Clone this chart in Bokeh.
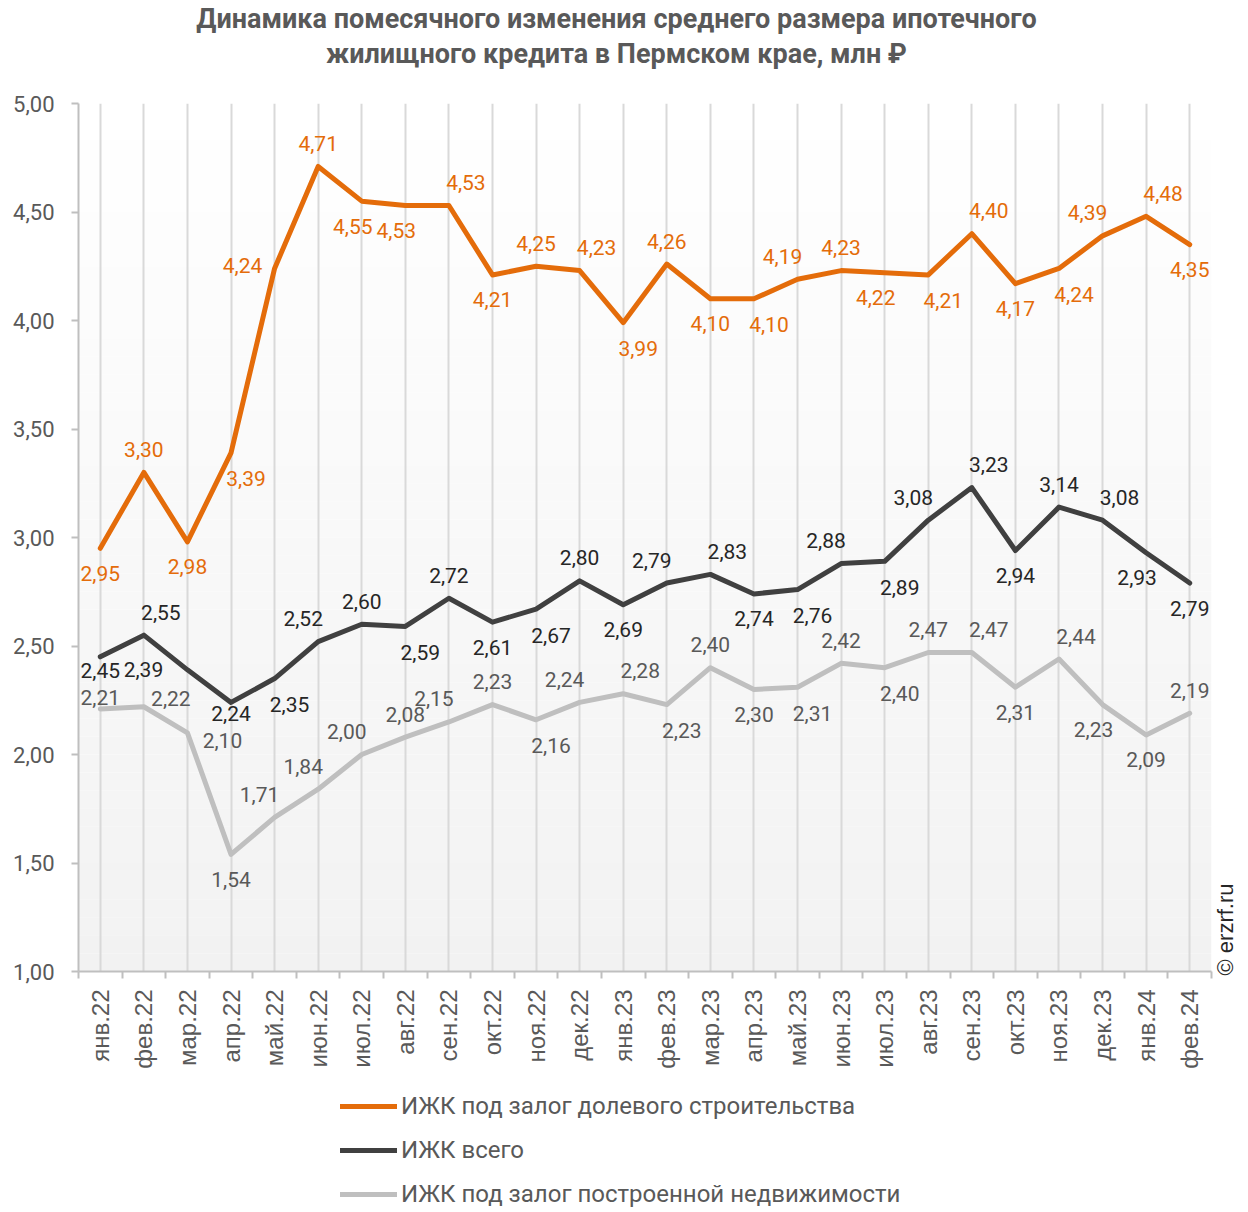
from bokeh.plotting import figure
from bokeh.layouts import column
from bokeh.models import (Range1d, FixedTicker, CustomJSTickFormatter, ColumnDataSource,
                          LabelSet, Legend, LegendItem, Label, BoxAnnotation)
from bokeh.core.properties import value
from bokeh.embed import file_html
from bokeh.resources import INLINE
import math

# ---------------- data ----------------
months = ["янв.22", "фев.22", "мар.22", "апр.22", "май.22", "июн.22", "июл.22", "авг.22",
          "сен.22", "окт.22", "ноя.22", "дек.22", "янв.23", "фев.23", "мар.23", "апр.23",
          "май.23", "июн.23", "июл.23", "авг.23", "сен.23", "окт.23", "ноя.23", "дек.23",
          "янв.24", "фев.24"]

dolevoe = [2.95, 3.30, 2.98, 3.39, 4.24, 4.71, 4.55, 4.53, 4.53, 4.21, 4.25, 4.23, 3.99,
           4.26, 4.10, 4.10, 4.19, 4.23, 4.22, 4.21, 4.40, 4.17, 4.24, 4.39, 4.48, 4.35]
vsego = [2.45, 2.55, 2.39, 2.24, 2.35, 2.52, 2.60, 2.59, 2.72, 2.61, 2.67, 2.80, 2.69,
         2.79, 2.83, 2.74, 2.76, 2.88, 2.89, 3.08, 3.23, 2.94, 3.14, 3.08, 2.93, 2.79]
postroennoe = [2.21, 2.22, 2.10, 1.54, 1.71, 1.84, 2.00, 2.08, 2.15, 2.23, 2.16, 2.24, 2.28,
               2.23, 2.40, 2.30, 2.31, 2.42, 2.40, 2.47, 2.47, 2.31, 2.44, 2.23, 2.09, 2.19]

series_names = ["ИЖК под залог долевого строительства", "ИЖК всего",
                "ИЖК под залог построенной недвижимости"]

y_ticks = [1.0, 1.5, 2.0, 2.5, 3.0, 3.5, 4.0, 4.5, 5.0]

title_line1 = "Динамика помесячного изменения среднего размера ипотечного"
title_line2 = "жилищного кредита в Пермском крае, млн ₽"
copyright_text = "© erzrf.ru"

# ---------------- label placement (style) ----------------
OFF = {"a": (0, 23), "b": (0, -25), "ar": (17, 23), "al": (-15, 23),
       "br": (15, -26), "bl": (-9, -25)}
dolevoe_pos = ["b", "a", "b", "br", (-32, 3), "a", "bl", "bl", "ar", "b", "a", "ar", "br",
               "a", "b", "br", "al", "a", "bl", "br", "ar", "b", "br", "al", "ar", "b"]
vsego_pos = [(0, -14), "ar", (-44, 0), (0, -11), "br", "al", "a", "br", "a", "b", "br", "a", "b",
             "al", "ar", "b", "br", "al", "br", "al", "ar", "b", "a", "ar", "bl", "b"]
postr_pos = [(0, 11), (27, 8), (35, -8), "b", "al", "al", "al", "a", "al", "a", "br", "al", "ar",
             "br", "a", "b", "br", "a", "br", "a", "ar", "b", "ar", "bl", "b", "a"]

ORANGE = "#E46C0A"
DARK = "#404040"
LIGHT = "#BFBFBF"
TEXT = "#595959"
W = 1244

xs = list(range(len(months)))
series = [(series_names[2], postroennoe, LIGHT),
          (series_names[1], vsego, DARK),
          (series_names[0], dolevoe, ORANGE)]

# ---------------- title strip ----------------
pt = figure(width=W, height=90, output_backend="svg", toolbar_location=None,
            x_range=Range1d(0, 1), y_range=Range1d(0, 1), x_axis_type=None, y_axis_type=None,
            min_border=0)
pt.outline_line_color = None
pt.grid.visible = False
for txt, ypos in [(title_line1, 72), (title_line2, 37)]:
    pt.add_layout(Label(x=538, y=ypos, x_units="screen", y_units="screen", text=txt,
                        text_align="center", text_baseline="middle", text_font="Roboto",
                        text_font_size="27px", text_font_style="bold", text_color=TEXT))

# ---------------- main chart ----------------
p = figure(frame_width=1133, frame_height=868, output_backend="svg", toolbar_location=None,
           x_range=Range1d(-0.5, len(months) - 0.5), y_range=Range1d(1.0, 5.0),
           min_border_left=78, min_border_right=33, min_border_top=13, min_border_bottom=100)
p.outline_line_color = None
p.background_fill_color = "white"
p.border_fill_color = "white"

# gradient background
nb = 48
for i in range(nb):
    b = 1.0 + 4.0 * i / nb
    t = 1.0 + 4.0 * (i + 1) / nb
    f = (i + 0.5) / nb
    g = int(round(242 + (255 - 242) * f))
    p.add_layout(BoxAnnotation(bottom=b, top=t, fill_color=(g, g, g), fill_alpha=1.0,
                               line_color=None, level="image"))

xax = p.xaxis[0]
xax.ticker = FixedTicker(ticks=xs, minor_ticks=[i - 0.5 for i in range(len(months) + 1)])
xax.major_label_overrides = {i: m for i, m in enumerate(months)}
xax.major_label_orientation = math.pi / 2
xax.major_tick_out = 0
xax.major_tick_in = 0
xax.minor_tick_out = 7
xax.minor_tick_in = 0
xax.minor_tick_line_color = LIGHT
xax.minor_tick_line_width = 2
xax.axis_line_color = LIGHT
xax.axis_line_width = 2
xax.major_label_text_font = "Liberation Sans"
xax.major_label_text_font_size = "24px"
xax.major_label_text_color = TEXT
xax.major_label_standoff = 11

yax = p.yaxis[0]
yax.ticker = FixedTicker(ticks=y_ticks, minor_ticks=[])
yax.formatter = CustomJSTickFormatter(code="return tick.toFixed(2).replace('.', ',');")
yax.major_tick_out = 7
yax.major_tick_in = 0
yax.major_tick_line_color = LIGHT
yax.major_tick_line_width = 2
yax.minor_tick_out = 0
yax.axis_line_color = LIGHT
yax.axis_line_width = 2
yax.major_label_text_font = "Roboto"
yax.major_label_text_font_size = "22px"
yax.major_label_text_color = TEXT
yax.major_label_standoff = 17

p.xgrid.grid_line_color = "#D9D9D9"
p.xgrid.grid_line_width = 2
p.ygrid.visible = False

for name, vals, col in series:
    p.line(xs, vals, line_color=col, line_width=5, line_join="round", line_cap="round")

def add_labels(vals, pos, color):
    xo, yo = [], []
    for ps in pos:
        dx, dy = OFF[ps] if isinstance(ps, str) else ps
        xo.append(dx)
        yo.append(dy)
    src = ColumnDataSource(dict(x=xs, y=vals, t=[f"{v:.2f}".replace(".", ",") for v in vals],
                                xo=xo, yo=yo))
    p.add_layout(LabelSet(x="x", y="y", text="t", x_offset="xo", y_offset="yo", source=src,
                          text_align="center", text_baseline="middle",
                          text_font=value("Roboto"), text_font_size=value("21px"),
                          text_color=color))

add_labels(postroennoe, postr_pos, TEXT)
add_labels(vsego, vsego_pos, "#262626")
add_labels(dolevoe, dolevoe_pos, ORANGE)

p.add_layout(Label(x=14, y=-4, x_units="screen", y_units="screen", text=copyright_text,
                   angle=math.pi / 2, text_align="left", text_baseline="middle",
                   text_font="Liberation Sans", text_font_size="22px", text_color="#262626"),
             "right")

# ---------------- legend strip ----------------
pl = figure(width=W, height=138, output_backend="svg", toolbar_location=None,
            x_range=Range1d(0, 1), y_range=Range1d(100, 101), x_axis_type=None,
            y_axis_type=None, min_border=0)
pl.outline_line_color = None
pl.grid.visible = False
leg_r = {}
for name, vals, col in series:
    leg_r[name] = pl.line(xs, vals, line_color=col, line_width=5, line_cap="round")
legend = Legend(items=[LegendItem(label=n, renderers=[leg_r[n]]) for n in series_names],
                location=(262, 1), orientation="vertical",
                label_text_font="Roboto", label_text_font_size="24px", label_text_color=TEXT,
                glyph_width=57, glyph_height=28, label_height=28,
                label_standoff=4, spacing=16,
                padding=0, margin=0, border_line_color=None, background_fill_alpha=0)
pl.add_layout(legend, "center")

layout = column(pt, p, pl, spacing=0)
open("out.html", "w").write(file_html(layout, INLINE))
